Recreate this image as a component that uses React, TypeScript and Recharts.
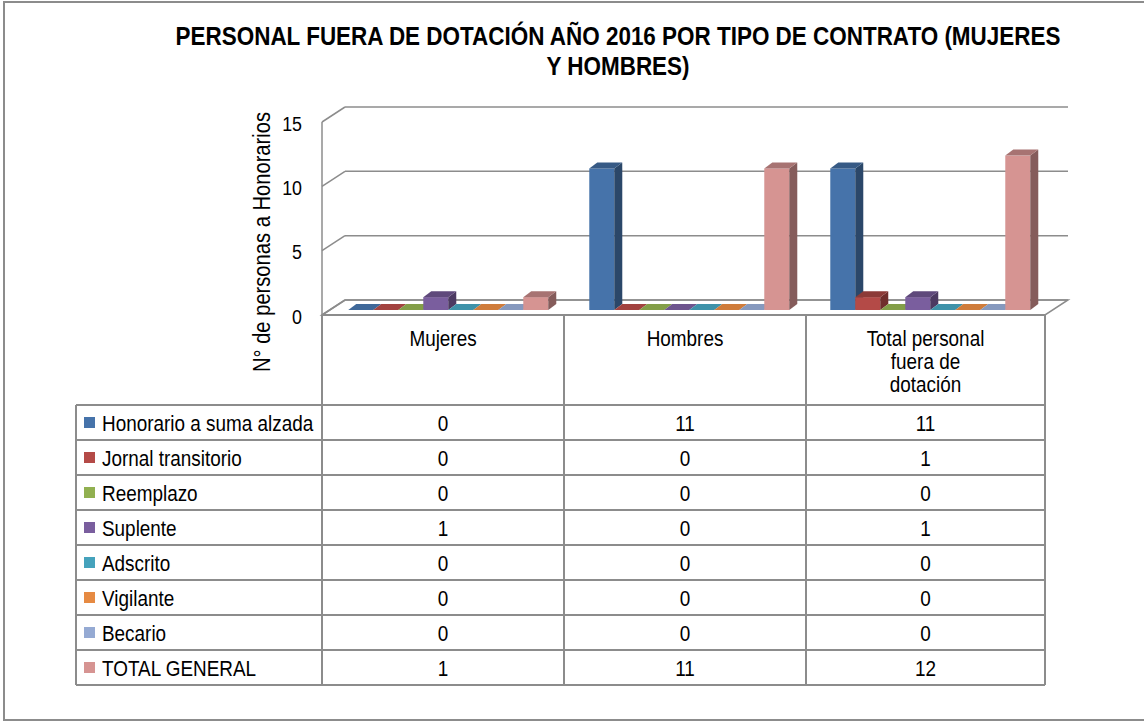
import { BarChart, Bar, XAxis, YAxis, CartesianGrid } from "recharts";

// categories (table columns) and the label lines shown in the header cells
const categories = ["Mujeres", "Hombres", "Total personal fuera de dotación"];
const categoryLines = [["Mujeres"], ["Hombres"], ["Total personal", "fuera de", "dotación"]];

// series, one array per contract type
const seriesNames = [
    "Honorario a suma alzada",
    "Jornal transitorio",
    "Reemplazo",
    "Suplente",
    "Adscrito",
    "Vigilante",
    "Becario",
    "TOTAL GENERAL",
];
const honorario = [0, 11, 11];
const jornal = [0, 0, 1];
const reemplazo = [0, 0, 0];
const suplente = [1, 0, 1];
const adscrito = [0, 0, 0];
const vigilante = [0, 0, 0];
const becario = [0, 0, 0];
const totalGeneral = [1, 11, 12];

const yTicks = [0, 5, 10, 15];

const seriesValues = [honorario, jornal, reemplazo, suplente, adscrito, vigilante, becario, totalGeneral];
const keys = seriesValues.map((_, i) => `s${i}`);
const colors = ["#4673AA", "#B44A47", "#91B050", "#7A5E9E", "#45A2BC", "#E68A42", "#95AAD3", "#D69492"];

const data = categories.map((name, ci) => {
    const row: Record<string, string | number> = { name };
    seriesValues.forEach((vals, si) => {
        row[keys[si]] = vals[ci];
    });
    return row;
});

// 3d geometry (back wall vs front edge of the floor)
const BACK_LEFT = 345;
const BACK_RIGHT = 1068;
const BACK_ZERO = 300;
const FRONT_DX = -23;
const FRONT_DY = 15;
const BAR_DX = -16;
const BAR_DY = 10;
const DEPTH_X = 8;
const DEPTH_Y = 6;
const GRID = "#8c8c8c";

// table geometry
const colX = [76, 322, 564, 806, 1045];
const headerTop = BACK_ZERO + FRONT_DY;
const rowTop = 405;
const rowH = 35;

function shade(hex: string, f: number) {
    const n = parseInt(hex.slice(1), 16);
    const r = Math.round(((n >> 16) & 255) * f);
    const g = Math.round(((n >> 8) & 255) * f);
    const b = Math.round((n & 255) * f);
    return `rgb(${r},${g},${b})`;
}

// eslint-disable-next-line @typescript-eslint/no-explicit-any
function Bar3D(props: any) {
    const { x, y, width, height, color } = props;
    if (x == null || y == null) return null;
    const x0 = x + BAR_DX;
    const y0 = y + BAR_DY;
    const w = width;
    const h = Math.max(height || 0, 0);
    const top = `${x0},${y0} ${x0 + DEPTH_X},${y0 - DEPTH_Y} ${x0 + w + DEPTH_X},${y0 - DEPTH_Y} ${x0 + w},${y0}`;
    const side = `${x0 + w},${y0} ${x0 + w + DEPTH_X},${y0 - DEPTH_Y} ${x0 + w + DEPTH_X},${y0 + h - DEPTH_Y} ${x0 + w},${y0 + h}`;
    return (
        <g>
            {h > 0 && <rect x={x0} y={y0} width={w} height={h} fill={color} />}
            {h > 0 && <polygon points={side} fill={shade(color, 0.62)} />}
            <polygon points={top} fill={h > 0 ? shade(color, 0.78) : shade(color, 0.9)} />
        </g>
    );
}

// eslint-disable-next-line @typescript-eslint/no-explicit-any
function YTick(props: any) {
    const { y, payload } = props;
    return (
        <g>
            <line x1={BACK_LEFT + FRONT_DX} y1={y + FRONT_DY} x2={BACK_LEFT} y2={y} stroke={GRID} strokeWidth={1.5} />
            <text
                transform={`translate(302, ${y + FRONT_DY + 1}) scale(0.85, 1)`}
                textAnchor="end"
                dominantBaseline="central"
                fontSize={21}
                fill="#000"
            >
                {payload.value}
            </text>
        </g>
    );
}

function Narrow({ x, y, children, anchor = "middle", size = 22 }: { x: number; y: number; children: string | number; anchor?: string; size?: number }) {
    return (
        <text
            transform={`translate(${x}, ${y}) scale(0.86, 1)`}
            textAnchor={anchor}
            dominantBaseline="central"
            fontSize={size}
            fill="#000"
        >
            {children}
        </text>
    );
}

export default function App() {
    const font = '"Liberation Sans", Arial, sans-serif';
    const floor = `${BACK_LEFT + FRONT_DX},${headerTop} ${BACK_LEFT},${BACK_ZERO} ${BACK_RIGHT},${BACK_ZERO} ${BACK_RIGHT + FRONT_DX},${headerTop}`;
    const tableBottom = rowTop + rowH * seriesNames.length;

    return (
        <div style={{ position: "absolute", left: 0, top: 0, width: 1144, height: 722, overflow: "hidden", background: "#fff", fontFamily: font }}>
            {/* floor and front axis edge, under the bars */}
            <svg width={1144} height={722} style={{ position: "absolute", left: 0, top: 0 }}>
                <polygon points={floor} fill="#fff" stroke={GRID} strokeWidth={1.5} />
                <line x1={BACK_LEFT + FRONT_DX} y1={122} x2={BACK_LEFT + FRONT_DX} y2={headerTop} stroke={GRID} strokeWidth={1.5} />
            </svg>

            <div style={{ position: "absolute", left: 0, top: 0 }}>
                <BarChart
                    width={1144}
                    height={722}
                    data={data}
                    margin={{ top: 107, right: 1144 - BACK_RIGHT, bottom: 722 - BACK_ZERO, left: BACK_LEFT - 60 }}
                    barCategoryGap="8%"
                    barGap={0}
                >
                    <CartesianGrid vertical={false} stroke={GRID} strokeWidth={1.5} />
                    <XAxis dataKey="name" hide />
                    <YAxis width={60} domain={[0, 15]} ticks={yTicks} interval={0} axisLine={false} tickLine={false} tick={<YTick />} />
                    {keys.map((k, i) => (
                        <Bar
                            key={k}
                            dataKey={k}
                            name={seriesNames[i]}
                            fill={colors[i]}
                            isAnimationActive={false}
                            shape={(p: object) => <Bar3D {...p} color={colors[i]} />}
                        />
                    ))}
                </BarChart>
            </div>

            {/* title, axis title, data table and frame */}
            <svg width={1144} height={722} style={{ position: "absolute", left: 0, top: 0, fontFamily: font }}>
                <rect x={4} y={2} width={1160} height={718} fill="none" stroke={GRID} strokeWidth={2} />

                <g transform="translate(618, 0) scale(0.864, 1)">
                    <text x={0} y={36} textAnchor="middle" dominantBaseline="central" fontSize={26} fontWeight="bold">
                        PERSONAL FUERA DE DOTACIÓN AÑO 2016 POR TIPO DE CONTRATO (MUJERES
                    </text>
                    <text x={0} y={66} textAnchor="middle" dominantBaseline="central" fontSize={26} fontWeight="bold">
                        Y HOMBRES)
                    </text>
                </g>

                <g transform="translate(262, 242) rotate(-90) scale(0.84, 1)">
                    <text x={0} y={0} textAnchor="middle" dominantBaseline="central" fontSize={24}>
                        N° de personas a Honorarios
                    </text>
                </g>

                {/* table grid */}
                <line x1={colX[1]} y1={headerTop} x2={colX[4]} y2={headerTop} stroke={GRID} strokeWidth={2} />
                {colX.map((cx, i) => (
                    <line key={`v${i}`} x1={cx} y1={i === 0 ? rowTop : headerTop} x2={cx} y2={tableBottom} stroke={GRID} strokeWidth={2} />
                ))}
                {seriesNames.map((_, i) => (
                    <line key={`h${i}`} x1={colX[0]} y1={rowTop + i * rowH} x2={colX[4]} y2={rowTop + i * rowH} stroke={GRID} strokeWidth={2} />
                ))}
                <line x1={colX[0]} y1={tableBottom} x2={colX[4]} y2={tableBottom} stroke={GRID} strokeWidth={2} />

                {/* header cells */}
                {categoryLines.map((lines, ci) =>
                    lines.map((ln, li) => (
                        <Narrow key={`c${ci}-${li}`} x={(colX[ci + 1] + colX[ci + 2]) / 2} y={338 + li * 23}>
                            {ln}
                        </Narrow>
                    ))
                )}

                {/* rows */}
                {seriesNames.map((s, si) => {
                    const cy = rowTop + si * rowH + rowH / 2;
                    return (
                        <g key={`r${si}`}>
                            <rect x={84} y={cy - 5.5} width={11} height={11} fill={colors[si]} />
                            <Narrow x={102} y={cy} anchor="start">
                                {s}
                            </Narrow>
                            {seriesValues[si].map((v, ci) => (
                                <Narrow key={`v${ci}`} x={(colX[ci + 1] + colX[ci + 2]) / 2} y={cy}>
                                    {v}
                                </Narrow>
                            ))}
                        </g>
                    );
                })}
            </svg>
        </div>
    );
}
